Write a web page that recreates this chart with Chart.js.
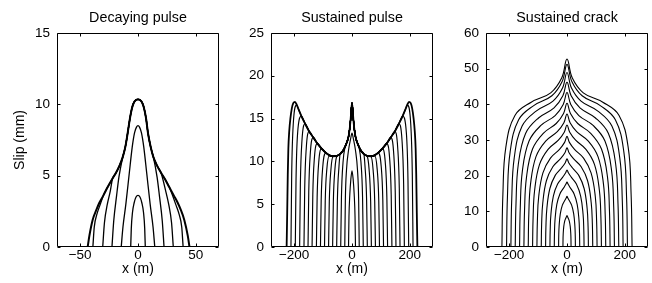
<!DOCTYPE html>
<html><head><meta charset="utf-8">
<script src="https://cdn.jsdelivr.net/npm/chart.js@4/dist/chart.umd.min.js"></script>
<style>
html,body{margin:0;padding:0;background:#fff;overflow:hidden;}
#wrap{position:relative;width:652px;height:283px;overflow:hidden;background:#fff;}
canvas{position:absolute;top:0;}
</style></head><body>
<div id="wrap">
<canvas id="c1" width="226" height="283" style="left:0px"></canvas>
<canvas id="c2" width="226" height="283" style="left:214px"></canvas>
<canvas id="c3" width="226" height="283" style="left:429px"></canvas>
</div>
<script>
// ---------- text ----------
const titles = ['Decaying pulse', 'Sustained pulse', 'Sustained crack'];
const yTitle = 'Slip (mm)';
const xTitle = 'x (m)';

// ---------- axes ----------
const xRange1 = [-70, 70];
const xRange23 = [-280, 280];
const xTicks1 = [-50, 0, 50];
const xTickLabels1 = ['\u221250', '0', '50'];
const xTicks23 = [-200, 0, 200];
const xTickLabels23 = ['\u2212200', '0', '200'];
const yTicks1 = [0, 5, 10, 15];
const yTicks2 = [0, 5, 10, 15, 20, 25];
const yTicks3 = [0, 10, 20, 30, 40, 50, 60];

// ---------- panel 1: decaying pulse ----------
const env1 = [[-43.5,0],[-42,0.8],[-39.2,1.9],[-36,2.6],[-33.4,3.1],[-30,3.6],[-26.2,4.2],[-22,4.8],[-19,5.2],[-16,5.7],[-13.2,6.3],[-11,7.0],[-8.9,8.0],[-7,9.0],[-5,9.8],[-3,10.2],[0,10.35],[3,10.2],[5,9.8],[7,9.0],[8.6,8.0],[11,7.0],[13.3,6.3],[16.5,5.7],[19.9,5.2],[23,4.8],[27,4.2],[31,3.6],[34.3,3.1],[37,2.6],[40,1.9],[43,0.8],[44.5,0]];
const p1Curve1 = [[-6.3,0],[-5.8,1.3],[-4.8,2.4],[-3.3,3.1],[-1.7,3.5],[0,3.62],[1.7,3.5],[3.3,3.1],[4.8,2.4],[5.8,1.3],[6.3,0]];
const p1Curve2 = [[-14.5,0],[-13,1.4],[-10.5,3.0],[-7.5,5.2],[-5,7.0],[-3,8.0],[-1.3,8.4],[0,8.5],[1.3,8.4],[3,8.0],[5,7.0],[7.5,5.2],[10.5,3.0],[13,1.4],[14.5,0]];
const p1Tails = [
  {left:[[-22.5,0],[-21,1.8],[-18.5,3.6],[-16.5,4.9]], right:[[16.5,4.9],[18.5,3.6],[21,1.8],[22.5,0]], join:14},
  {left:[[-30.5,0],[-29,1.7],[-26.5,3.0],[-24,3.9]], right:[[24,3.9],[26.5,3.0],[29,1.7],[30.5,0]], join:22.5},
  {left:[[-39,0],[-37.8,1.4],[-35.5,2.3],[-33,2.9]], right:[[33,2.9],[35.5,2.3],[37.8,1.4],[39,0]], join:31}
];

// ---------- panel 2: sustained pulse ----------
const env2 = [[-226,0],[-224,4],[-222,8.5],[-220,11.5],[-217,13.5],[-213,15.0],[-208,16.2],[-203,16.8],[-197,16.95],[-191,16.6],[-185,16.1],[-175,15.3],[-162,14.4],[-148,13.5],[-134,12.8],[-120,12.1],[-105,11.5],[-90,11.0],[-78,10.7],[-65,10.6],[-52,10.65],[-41,10.85],[-32,11.2],[-24,11.7],[-17,12.3],[-12,12.9],[-8,13.8],[-5,14.8],[-2.5,16.0],[0,16.8],[2.5,16.0],[5,14.8],[8,13.8],[12,12.9],[17,12.3],[24,11.7],[32,11.2],[41,10.85],[52,10.65],[65,10.6],[78,10.7],[90,11.0],[105,11.5],[120,12.1],[134,12.8],[148,13.5],[162,14.4],[175,15.3],[185,16.1],[191,16.6],[197,16.95],[203,16.8],[208,16.2],[213,15.0],[217,13.5],[220,11.5],[222,8.5],[224,4],[226,0]];
const p2Curve0 = [[-12,0],[-10.5,3.5],[-7.5,6.2],[-4,7.9],[0,8.9],[4,7.9],[7.5,6.2],[10.5,3.5],[12,0]];
const p2Curve1 = [[-25,0],[-23,5.5],[-19,9.0],[-12,11.3],[-5,12.6],[0,13.3],[5,12.6],[12,11.3],[19,9.0],[23,5.5],[25,0]];
const p2Tails = [
  {left:[[-211,0],[-208.5,8.4],[-203,14.4]], right:[[203,14.4],[208.5,8.4],[211,0]], join:195},
  {left:[[-196,0],[-193.5,7.8],[-188,13.3]], right:[[188,13.3],[193.5,7.8],[196,0]], join:178},
  {left:[[-181,0],[-178.5,7.3],[-173,12.4]], right:[[173,12.4],[178.5,7.3],[181,0]], join:165},
  {left:[[-166,0],[-163.5,6.8],[-158,11.6]], right:[[158,11.6],[163.5,6.8],[166,0]], join:150},
  {left:[[-152,0],[-149.5,6.4],[-144,11.0]], right:[[144,11.0],[149.5,6.4],[152,0]], join:136},
  {left:[[-138,0],[-135.5,6.1],[-130,10.4]], right:[[130,10.4],[135.5,6.1],[138,0]], join:122},
  {left:[[-123,0],[-120.5,5.8],[-115,9.9]], right:[[115,9.9],[120.5,5.8],[123,0]], join:107},
  {left:[[-109,0],[-106.5,5.5],[-101,9.4]], right:[[101,9.4],[106.5,5.5],[109,0]], join:93},
  {left:[[-95,0],[-92.5,5.4],[-87,9.1]], right:[[87,9.1],[92.5,5.4],[95,0]], join:80},
  {left:[[-81,0],[-78.5,5.3],[-73,9.0]], right:[[73,9.0],[78.5,5.3],[81,0]], join:66},
  {left:[[-67,0],[-64.5,5.3],[-59,9.1]], right:[[59,9.1],[64.5,5.3],[67,0]], join:53},
  {left:[[-53,0],[-50.5,5.5],[-45,9.4]], right:[[45,9.4],[50.5,5.5],[53,0]], join:42},
  {left:[[-39,0],[-36.5,5.8],[-31,9.9]], right:[[31,9.9],[36.5,5.8],[39,0]], join:25}
];

// ---------- panel 3: sustained crack ----------
const p3Curves = [
  [[-14,0],[-13.8,1.76],[-13.2,3.52],[-11.2,5.72],[-7.7,7.3],[-3.5,8.18],[-1.1,8.62],[0,8.8],[1.1,8.62],[3.5,8.18],[7.7,7.3],[11.2,5.72],[13.2,3.52],[13.8,1.76],[14,0]],
  [[-29,0],[-28.6,2.92],[-27.3,5.81],[-23.2,9.28],[-16,11.73],[-7.3,13.09],[-2.3,13.83],[0,14.2],[2.3,13.83],[7.3,13.09],[16,11.73],[23.2,9.28],[27.3,5.81],[28.6,2.92],[29,0]],
  [[-44,0],[-43.3,3.84],[-41.4,7.62],[-35.2,11.96],[-24.2,14.95],[-11,16.64],[-3.5,17.64],[0,18.2],[3.5,17.64],[11,16.64],[24.2,14.95],[35.2,11.96],[41.4,7.62],[43.3,3.84],[44,0]],
  [[-59,0],[-58.1,4.69],[-55.5,9.24],[-47.2,14.28],[-32.5,17.65],[-14.8,19.57],[-4.7,20.8],[0,21.6],[4.7,20.8],[14.8,19.57],[32.5,17.65],[47.2,14.28],[55.5,9.24],[58.1,4.69],[59,0]],
  [[-74,0],[-72.9,5.51],[-69.6,10.79],[-59.2,16.4],[-40.7,20.08],[-18.5,22.21],[-5.9,23.64],[0,24.7],[5.9,23.64],[18.5,22.21],[40.7,20.08],[59.2,16.4],[69.6,10.79],[72.9,5.51],[74,0]],
  [[-89,0],[-87.7,6.37],[-83.7,12.4],[-71.2,18.57],[-49,22.49],[-22.3,24.77],[-7.1,26.44],[0,27.8],[7.1,26.44],[22.3,24.77],[49,22.49],[71.2,18.57],[83.7,12.4],[87.7,6.37],[89,0]],
  [[-104,0],[-102.4,7.25],[-97.8,14.14],[-83.2,20.8],[-57.2,24.92],[-26,27.37],[-8.3,29.33],[0,31],[8.3,29.33],[26,27.37],[57.2,24.92],[83.2,20.8],[97.8,14.14],[102.4,7.25],[104,0]],
  [[-119,0],[-117.2,8.21],[-111.9,15.9],[-95.2,23.09],[-65.5,27.36],[-29.8,29.93],[-9.5,32.15],[0,34.2],[9.5,32.15],[29.8,29.93],[65.5,27.36],[95.2,23.09],[111.9,15.9],[117.2,8.21],[119,0]],
  [[-134,0],[-132,9.18],[-126,17.68],[-107.2,25.33],[-73.7,29.69],[-33.5,32.34],[-10.7,34.84],[0,37.3],[10.7,34.84],[33.5,32.34],[73.7,29.69],[107.2,25.33],[126,17.68],[132,9.18],[134,0]],
  [[-149,0],[-146.8,10.12],[-140.1,19.51],[-119.2,27.48],[-82,31.88],[-37.3,34.62],[-11.9,37.44],[0,40.3],[11.9,37.44],[37.3,34.62],[82,31.88],[119.2,27.48],[140.1,19.51],[146.8,10.12],[149,0]],
  [[-164,0],[-161.5,11.13],[-154.2,21.35],[-131.2,29.7],[-90.2,34.08],[-41,36.85],[-13.1,39.97],[0,43.3],[13.1,39.97],[41,36.85],[90.2,34.08],[131.2,29.7],[154.2,21.35],[161.5,11.13],[164,0]],
  [[-179,0],[-176.3,12.15],[-168.3,23.19],[-143.2,31.83],[-98.5,36.17],[-44.8,38.99],[-14.3,42.37],[0,46.2],[14.3,42.37],[44.8,38.99],[98.5,36.17],[143.2,31.83],[168.3,23.19],[176.3,12.15],[179,0]],
  [[-194,0],[-191.1,13.15],[-182.4,24.99],[-155.2,33.89],[-106.7,38.09],[-48.5,40.88],[-15.5,44.55],[0,48.9],[15.5,44.55],[48.5,40.88],[106.7,38.09],[155.2,33.89],[182.4,24.99],[191.1,13.15],[194,0]],
  [[-209,0],[-205.9,14.03],[-196.5,26.68],[-167.2,35.64],[-115,39.63],[-52.3,42.39],[-16.7,46.39],[0,51.2],[16.7,46.39],[52.3,42.39],[115,39.63],[167.2,35.64],[196.5,26.68],[205.9,14.03],[209,0]],
  [[-225,0],[-221.6,14.76],[-211.5,27.93],[-180,36.89],[-123.8,40.58],[-56.3,43.21],[-18,47.43],[0,52.7],[18,47.43],[56.3,43.21],[123.8,40.58],[180,36.89],[211.5,27.93],[221.6,14.76],[225,0]]
];

// ---------- assembly (tails joined onto the read envelope) ----------
function assemble(env, t) {
  return [...t.left, ...env.filter(p => Math.abs(p[0]) < t.join), ...t.right];
}
const FONT = "'Liberation Sans', Arial, Helvetica, sans-serif";

const boxTicks = {
  id: 'boxTicks',
  afterDraw(chart) {
    const {ctx, chartArea: a, scales: {x, y}} = chart;
    const L = Math.round(a.left) + 0.5, R = Math.round(a.right) - 0.5;
    const T = Math.round(a.top) + 0.5, B = Math.round(a.bottom) - 0.5;
    const tl = 3;
    ctx.save();
    ctx.strokeStyle = '#000';
    ctx.lineWidth = 1;
    ctx.beginPath();
    ctx.rect(L, T, R - L, B - T);
    x.ticks.forEach(t => {
      const p = Math.round(x.getPixelForValue(t.value)) + 0.5;
      ctx.moveTo(p, B); ctx.lineTo(p, B - tl);
      ctx.moveTo(p, T); ctx.lineTo(p, T + tl);
    });
    y.ticks.forEach(t => {
      const p = Math.round(y.getPixelForValue(t.value)) + 0.5;
      ctx.moveTo(L, p); ctx.lineTo(L + tl, p);
      ctx.moveTo(R, p); ctx.lineTo(R - tl, p);
    });
    ctx.stroke();
    ctx.restore();
  }
};

function makeChart(id, cfg) {
  const tickFont = {family: FONT, size: 13.5, weight: 'normal'};
  const titleFont = {family: FONT, size: 14.3, weight: 'normal'};
  const axisFont = {family: FONT, size: 14, weight: 'normal'};
  return new Chart(document.getElementById(id), {
    type: 'line',
    data: {
      datasets: cfg.curves.map((pts, i) => ({
        data: pts.map(([x, y]) => ({x, y})),
        borderColor: '#000',
        borderWidth: cfg.widths[i],
        pointRadius: 0,
        fill: false,
        cubicInterpolationMode: cfg.mode,
        tension: cfg.tension
      }))
    },
    options: {
      responsive: false,
      animation: false,
      events: [],
      layout: {padding: {left: 0, right: 7, top: 0, bottom: 0}},
      plugins: {
        legend: {display: false},
        tooltip: {enabled: false},
        title: {display: true, text: cfg.title, fullSize: false, color: '#000', font: titleFont, padding: {top: 9.5, bottom: 6.3}}
      },
      scales: {
        x: {
          type: 'linear', min: cfg.xRange[0], max: cfg.xRange[1],
          afterBuildTicks: s => { s.ticks = cfg.xTicks.map(v => ({value: v})); },
          ticks: {callback: v => cfg.xLabels[cfg.xTicks.indexOf(v)], autoSkip: false, maxRotation: 0, padding: 0, color: '#000', font: tickFont},
          grid: {display: false, drawTicks: false},
          border: {display: false},
          title: {display: true, text: xTitle, color: '#000', font: axisFont, padding: {top: 0, bottom: 5}},
          afterFit: s => { s.height = 36; }
        },
        y: {
          type: 'linear', min: cfg.yTicks[0], max: cfg.yTicks[cfg.yTicks.length - 1],
          afterBuildTicks: s => { s.ticks = cfg.yTicks.map(v => ({value: v})); },
          ticks: {callback: v => String(v), autoSkip: false, padding: 7, color: '#000', font: tickFont},
          grid: {display: false, drawTicks: false},
          border: {display: false},
          title: {display: cfg.showYTitle, text: yTitle, color: '#000', font: axisFont, padding: {top: 12, bottom: 0}},
          afterFit: s => { s.width = 57; }
        }
      }
    },
    plugins: [boxTicks]
  });
}

const p1 = [p1Curve1, p1Curve2, ...p1Tails.map(t => assemble(env1, t)), env1];
makeChart('c1', {
  title: titles[0], curves: p1, widths: p1.map((c, i) => i === p1.length - 1 ? 2 : 1.3),
  mode: 'monotone', tension: 0,
  xRange: xRange1, xTicks: xTicks1, xLabels: xTickLabels1, yTicks: yTicks1, showYTitle: true
});

const p2 = [p2Curve0, p2Curve1, ...p2Tails.map(t => assemble(env2, t)), env2];
makeChart('c2', {
  title: titles[1], curves: p2, widths: p2.map((c, i) => i === p2.length - 1 ? 1.8 : 1.15),
  mode: 'monotone', tension: 0,
  xRange: xRange23, xTicks: xTicks23, xLabels: xTickLabels23, yTicks: yTicks2, showYTitle: false
});

makeChart('c3', {
  title: titles[2], curves: p3Curves, widths: p3Curves.map(() => 1.1),
  mode: 'default', tension: 0.4,
  xRange: xRange23, xTicks: xTicks23, xLabels: xTickLabels23, yTicks: yTicks3, showYTitle: false
});
</script>
</body></html>
